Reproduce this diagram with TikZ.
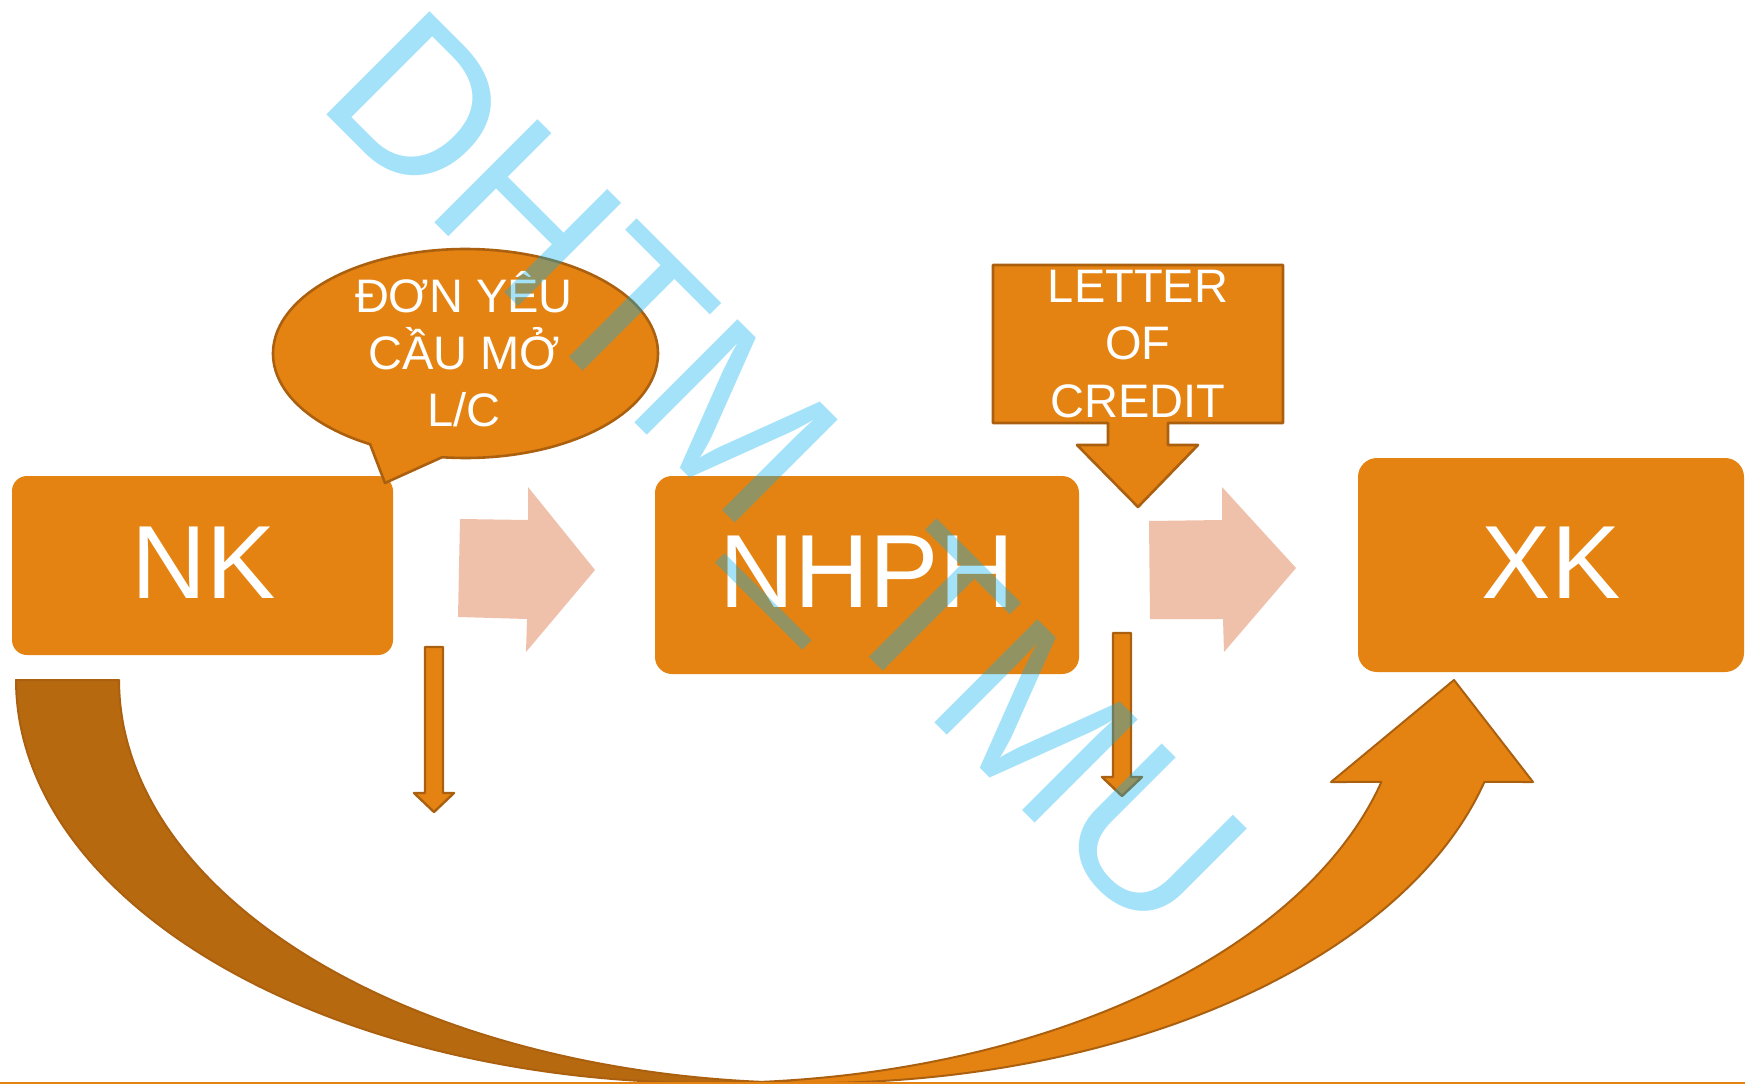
\documentclass[tikz,border=0pt]{standalone}
\usepackage{fontspec}
\setmainfont{Liberation Sans}
\newfontfamily\wmfont{Liberation Sans}
\definecolor{myorange}{HTML}{E48312}
\definecolor{mybrown}{HTML}{B6690E}
\definecolor{myline}{HTML}{AA600E}
\definecolor{mypink}{HTML}{F0C1AA}
\definecolor{mywm}{HTML}{00B0F0}
\begin{document}
\begin{tikzpicture}[x=0.5pt,y=-0.5pt,
  obox/.style={fill=myorange, draw=none, inner sep=0pt},
  bigtxt/.style={text=white, font=\fontsize{52}{60}\selectfont, inner sep=0pt, anchor=base},
  smalltxt/.style={text=white, font=\fontsize{23.5}{28}\selectfont, inner sep=0pt, anchor=base},
  shapeline/.style={fill=myorange, draw=myline, line width=1.3pt, line join=round},
  pinkarrow/.style={fill=mypink, draw=none},
  backband/.style={fill=mybrown, draw=myline, line width=1pt, line join=round},
  frontband/.style={fill=myorange, draw=myline, line width=1pt, line join=round},
  wmark/.style={text=mywm, text opacity=0.36, font=\wmfont\fontsize{106}{120}\selectfont, inner sep=0pt, rotate=-45, anchor=base west}]

\useasboundingbox (0,0) rectangle (1745,1085);
\fill[white] (0,0) rectangle (1745,1085);

% main boxes
\node[obox, rounded corners=7.5pt, minimum width=190.5pt, minimum height=89.5pt] (nk) at (202.5,565.5) {};
\node[obox, rounded corners=8.5pt, minimum width=212pt, minimum height=99pt] (nhph) at (867,575) {};
\node[obox, rounded corners=9.5pt, minimum width=193pt, minimum height=107pt] (xk) at (1551,565) {};
\node[bigtxt] (nkt) at (204,598) {NK};
\node[bigtxt] (nhpht) at (867,607) {NHPH};
\node[bigtxt] (xkt) at (1551,598) {XK};

% pink block arrows
\path[pinkarrow] (460,519) -- (528,520) -- (528,487) -- (595,570) -- (526,652) -- (527,619) -- (458,617) -- cycle;
\path[pinkarrow] (1149,521) -- (1222,520) -- (1222,487) -- (1296,568) -- (1224,652) -- (1223,619) -- (1150,619) -- cycle;

% small down arrows
\path[shapeline, line width=1.2pt] (425,647) -- (443,647) -- (443,793) -- (454,793) -- (434,812) -- (414,793) -- (425,793) -- cycle;
\path[shapeline, line width=1.2pt] (1113,633) -- (1131,633) -- (1131,777) -- (1142,777) -- (1122,796) -- (1102,777) -- (1113,777) -- cycle;

% letter of credit callout arrow
\path[shapeline] (993,265) -- (1283,265) -- (1283,423) -- (1168,423) -- (1168,445) -- (1198,445) -- (1138,507) -- (1077,445) -- (1108,445) -- (1108,423) -- (993,423) -- cycle;
\node[smalltxt] (loc1) at (1138,303) {LETTER};
\node[smalltxt] (loc2) at (1138,360) {OF};
\node[smalltxt] (loc3) at (1138,417) {CREDIT};

% speech bubble
\path[shapeline] plot[domain=119.7:457, samples=160] ({465.5+192.5*cos(\x)}, {353.5+104.5*sin(\x)}) -- (385,483) -- cycle;
\node[smalltxt] (cb1) at (464,313) {ĐƠN YÊU};
\node[smalltxt] (cb2) at (464,370) {CẦU MỞ};
\node[smalltxt] (cb3) at (464,427) {L/C};

% curved up arrow
\path[backband] plot[domain=180:85.74, samples=100] ({710+694*cos(\x)}, {680+403*sin(\x)})
  -- plot[domain=94.26:180, samples=100] ({813+694*cos(\x)}, {680+403*sin(\x)}) -- cycle;
\path[frontband] (1454,680) -- (1533,782)
  -- plot[domain=14.66:94.26, samples=100] ({813+694*cos(\x)}, {680+403*sin(\x)})
  -- plot[domain=85.74:14.66, samples=100] ({710+694*cos(\x)}, {680+403*sin(\x)})
  -- (1331,782) -- cycle;

% bottom rule
\draw[myorange, line width=1pt] (0,1083) -- (1745,1083);

% watermark
\node[wmark] (wm) at (314,102) {DHTM\_TMU};
\end{tikzpicture}
\end{document}
